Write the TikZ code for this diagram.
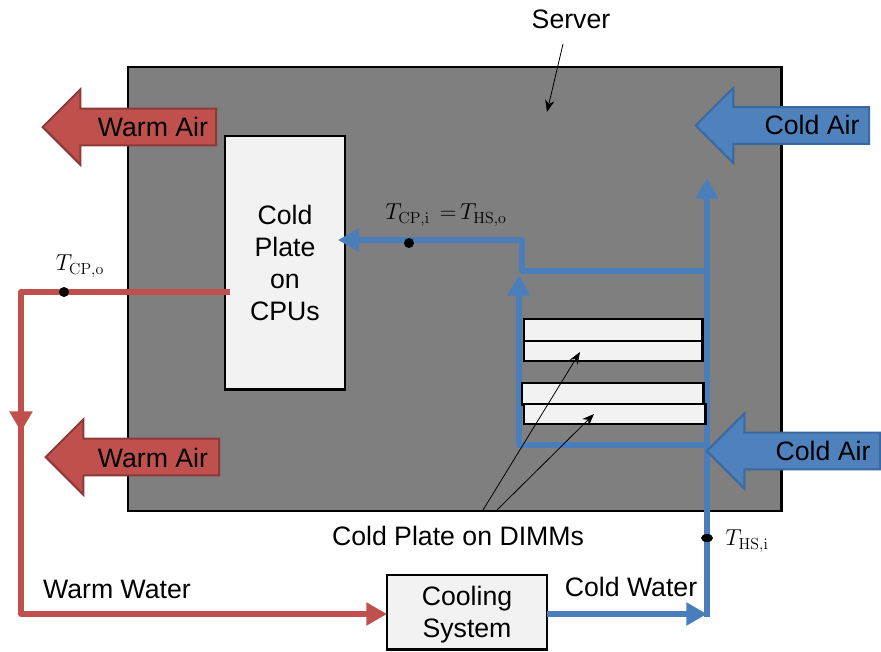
\documentclass[tikz,border=0pt]{standalone}
\usepackage[no-math]{fontspec}
\setmainfont{Liberation Sans}
\usetikzlibrary{arrows.meta, shapes.arrows, shapes.geometric}
\definecolor{warmred}{HTML}{C0504D}
\definecolor{warmedge}{HTML}{8C3A38}
\definecolor{coldblue}{HTML}{4F81BD}
\definecolor{coldedge}{HTML}{3A68A0}
\definecolor{pipeblue}{HTML}{4A7EBB}
\definecolor{platefill}{HTML}{F2F2F2}
\definecolor{servergray}{HTML}{7F7F7F}
\tikzset{
	every node/.style={font=\fontsize{20}{24}\selectfont, inner sep=0pt},
	plate/.style={draw=black, line width=2.2pt, outer sep=0pt, fill=platefill, text=black, align=center, anchor=north west},
	airarrow/.style={single arrow, shape border rotate=180, inner sep=13pt, minimum height=130pt,
		single arrow head extend=14.5pt, single arrow tip angle=90, line width=1.5pt},
	warmair/.style={airarrow, draw=warmedge, fill=warmred},
	coldair/.style={airarrow, draw=coldedge, fill=coldblue},
	bigtip/.tip={Triangle[length=15.5pt,width=16.5pt]},
	warmpipe/.style={draw=warmred, line width=4.5pt, line join=round},
	coldpipe/.style={draw=pipeblue, line width=4.5pt, line join=round},
	pointer/.style={draw=black, line width=0.6pt, -{Stealth[length=9pt,width=7pt]}},
	probe/.style={circle, fill=black, minimum size=7.5pt},
	templabel/.style={font=\fontsize{16.5}{20}\selectfont}
}
\begin{document}
\begin{tikzpicture}[x=0.75pt,y=-0.75pt]
	\useasboundingbox (0,0) rectangle (881,651);

	\node[plate, fill=servergray, minimum width=490pt, minimum height=333pt] (server) at (128,67) {};
	\node[plate, minimum width=90pt, minimum height=190pt] (cpuplate) at (225,136) {};
	\node[align=center] (cpulabel) at (285,263) {\baselineskip=24pt Cold\\Plate\\on\\CPUs};

	\coordinate (redstart) at (230,292);
	\coordinate (redcorner) at (21,292);
	\coordinate (redmid) at (21,432);
	\coordinate (redjoin) at (21,425);
	\coordinate (redbottom) at (21,614);
	\coordinate (bluecorner) at (707,617);
	\coordinate (bluetop) at (707,178);
	\coordinate (upperright) at (707,271);
	\coordinate (upperleft) at (522,271);
	\coordinate (upperbend) at (522,240);
	\coordinate (cpuinlet) at (338,240);
	\coordinate (lowerright) at (707,445);
	\coordinate (lowerleft) at (519,445);
	\coordinate (lowertop) at (519,275);

	\node[plate, minimum width=120pt, minimum height=56pt] (cooling) at (387,575) {};
	\node[align=center] (coolinglabel) at (467,615) {\baselineskip=25pt Cooling\\System};

	\draw[warmpipe, -{bigtip}] (redstart) -- (redcorner) -- (redmid);
	\draw[warmpipe, -{bigtip}] (redjoin) -- (redbottom) -- (cooling.west |- redbottom);
	\draw[coldpipe, -{bigtip}] (cooling.east |- redbottom) -- (redbottom -| bluecorner);
	\draw[coldpipe, -{bigtip}] (bluecorner) -- (bluetop);
	\draw[coldpipe, -{bigtip}] (upperright) -- (upperleft) -- (upperbend) -- (cpuinlet);
	\draw[coldpipe, -{bigtip}] (lowerright) -- (lowerleft) -- (lowertop);

	\node[plate, minimum width=134pt, minimum height=17pt] (dimma) at (524,319) {};
	\node[plate, minimum width=134pt, minimum height=15pt] (dimmb) at (524,341) {};
	\node[plate, minimum width=136pt, minimum height=16pt] (dimmc) at (522,383) {};
	\node[plate, minimum width=136pt, minimum height=15pt] (dimmd) at (524,404) {};

	\node[warmair] (warmtop) at (138.5,127) {};
	\node (warmtoplabel) at (153,127) {Warm Air};
	\node[warmair] (warmlow) at (141.5,457) {};
	\node (warmlowlabel) at (153,458) {Warm Air};
	\node[coldair] (coldtop) at (791.5,125.5) {};
	\node (coldtoplabel) at (812,125) {Cold Air};
	\node[coldair] (coldlow) at (802.5,451) {};
	\node (coldlowlabel) at (823,451) {Cold Air};

	\node (serverlabel) at (571,19) {Server};
	\node (dimmlabel) at (458,536) {Cold Plate on DIMMs};
	\node (warmwater) at (117,589) {Warm Water};
	\node (coldwater) at (631,587) {Cold Water};

	\coordinate (serverfrom) at (563,44);
	\coordinate (serverto) at (547,112);
	\coordinate (dimmfroma) at (483,510);
	\coordinate (dimmtoa) at (580,352);
	\coordinate (dimmfromb) at (497,510);
	\coordinate (dimmtob) at (594,414);
	\draw[pointer] (serverfrom) -- (serverto);
	\draw[pointer] (dimmfroma) -- (dimmtoa);
	\draw[pointer] (dimmfromb) -- (dimmtob);

	\node[probe] (probecpo) at (64,292) {};
	\node[probe] (probecpi) at (409,243) {};
	\node[ellipse, fill=black, minimum width=9pt, minimum height=6pt] (probehsi) at (707,538) {};
	\node[templabel] (tcpo) at (80,266) {$T_{\mathrm{CP,o}}$};
	\node[templabel] (tcpi) at (446,215) {$T_{\mathrm{CP,i}}\ \,{=}\,T_{\mathrm{HS,o}}$};
	\node[templabel] (thsi) at (747,541) {$T_{\mathrm{HS,i}}$};
\end{tikzpicture}
\end{document}
